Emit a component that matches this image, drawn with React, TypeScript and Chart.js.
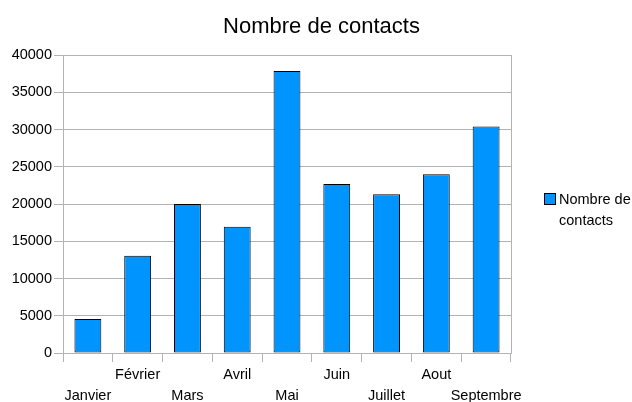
import React, { useEffect, useRef } from "react";
import { Chart, registerables } from "chart.js";

Chart.register(...registerables);

const categories = ["Janvier", "Février", "Mars", "Avril", "Mai", "Juin", "Juillet", "Aout", "Septembre"];
const contacts = [4550, 13050, 20000, 16950, 37850, 22700, 21300, 24000, 30400];
const seriesLabel = "Nombre de contacts";
const legendLines = ["Nombre de", "contacts"];
const chartTitle = "Nombre de contacts";

const FONT = "'Liberation Sans', Arial, sans-serif";
const GRID = "#b3b3b3";
const BAR = "#0094ff";

const decorPlugin = {
  id: "decor",
  afterDraw(chart: any) {
    const ctx = chart.ctx;
    const a = chart.chartArea;
    ctx.save();
    // right border of plot area
    ctx.strokeStyle = GRID;
    ctx.lineWidth = 1;
    ctx.beginPath();
    ctx.moveTo(Math.round(a.right) + 0.5, a.top);
    ctx.lineTo(Math.round(a.right) + 0.5, a.bottom);
    ctx.stroke();
    // title
    ctx.fillStyle = "#000";
    ctx.font = `22px ${FONT}`;
    ctx.textAlign = "center";
    ctx.textBaseline = "alphabetic";
    ctx.fillText(chartTitle, 321.5, 33);
    // legend
    const ds = chart.data.datasets[0];
    ctx.fillStyle = ds.backgroundColor;
    ctx.fillRect(544, 193, 11, 11);
    ctx.strokeStyle = "#000";
    ctx.strokeRect(544.5, 193.5, 11, 11);
    ctx.fillStyle = "#000";
    ctx.font = `14.5px ${FONT}`;
    ctx.textAlign = "left";
    ctx.textBaseline = "middle";
    legendLines.forEach((t, i) => ctx.fillText(t, 559, 200 + i * 21));
    ctx.restore();
  },
};

export default function App() {
  const ref = useRef<HTMLCanvasElement>(null);
  useEffect(() => {
    document.body.style.margin = "0";
    const chart = new Chart(ref.current!, {
      type: "bar",
      data: {
        labels: categories,
        datasets: [
          {
            label: seriesLabel,
            data: contacts,
            backgroundColor: BAR,
            borderColor: "#000",
            borderWidth: 1,
            borderSkipped: false,
            barPercentage: 0.54,
            categoryPercentage: 1,
          },
        ],
      },
      options: {
        responsive: false,
        animation: false,
        layout: { padding: { top: 55, right: 121, left: 0, bottom: 0 } },
        plugins: {
          legend: { display: false },
          title: { display: false },
          tooltip: { enabled: false },
        },
        scales: {
          x: {
            afterFit(scale: any) {
              scale.height = 49;
            },
            grid: {
              offset: true,
              drawOnChartArea: false,
              drawTicks: true,
              tickLength: 9,
              color: GRID,
            },
            border: { display: true, color: GRID },
            ticks: {
              color: "#000",
              font: { family: FONT, size: 14.5, lineHeight: "21px" },
              padding: 2,
              maxRotation: 0,
              autoSkip: false,
              callback: (_v: any, i: number) => (i % 2 === 0 ? ["", categories[i]] : [categories[i]]),
            },
          },
          y: {
            min: 0,
            max: 40000,
            afterFit(scale: any) {
              scale.width = 63;
            },
            grid: { color: GRID, tickLength: 9, drawTicks: true },
            border: { display: true, color: GRID },
            ticks: {
              stepSize: 5000,
              color: "#000",
              font: { family: FONT, size: 14.5 },
              padding: 2,
              callback: (v: any) => String(v),
            },
          },
        },
      },
      plugins: [decorPlugin],
    });
    return () => chart.destroy();
  }, []);
  return (
    <div style={{ width: 632, height: 402 }}>
      <canvas ref={ref} width={632} height={402} style={{ display: "block" }} />
    </div>
  );
}
